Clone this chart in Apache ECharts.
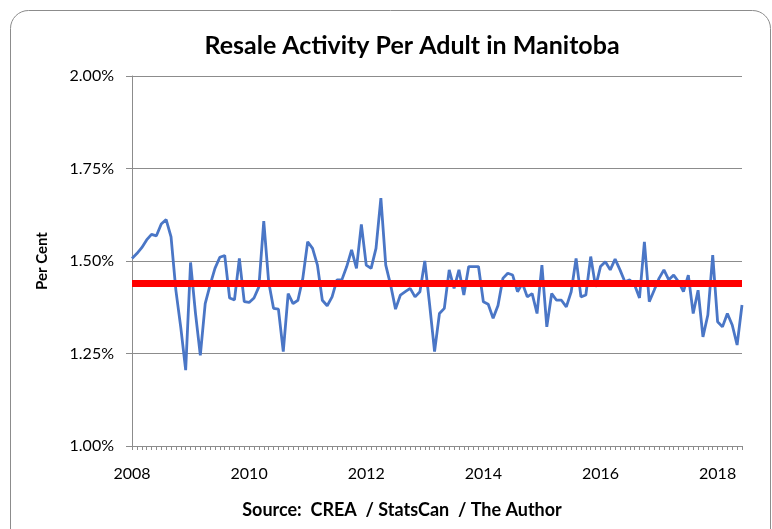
<!DOCTYPE html>
<html><head><meta charset="utf-8">
<script src="https://cdn.jsdelivr.net/npm/echarts@6/dist/echarts.min.js"></script>
<style>html,body{margin:0;padding:0;background:#fff}#c{width:772px;height:529px}</style>
</head><body><div id="c"></div>
<script>
const startYear = 2008;
const values = [
 1.507,1.52,1.536,1.557,1.572,1.568,1.60,1.612,1.565,1.42,1.32,1.205,1.496,1.36,1.245,1.385,1.435,1.48,1.51,1.515,1.40,1.395,1.507,1.39,1.388,
 1.40,1.43,1.608,1.444,1.372,1.37,1.255,1.412,1.385,1.394,1.453,1.552,1.534,1.489,1.394,1.379,1.403,1.449,1.449,1.485,1.53,1.48,1.599,1.489,1.48,
 1.534,1.67,1.489,1.435,1.37,1.408,1.417,1.426,1.403,1.417,1.50,1.381,1.255,1.358,1.372,1.476,1.426,1.476,1.408,1.485,1.485,1.485,1.39,1.383,1.345,
 1.38,1.453,1.467,1.462,1.417,1.44,1.403,1.412,1.358,1.489,1.322,1.412,1.394,1.394,1.376,1.417,1.507,1.403,1.408,1.512,1.43,1.485,1.498,1.476,1.505,
 1.476,1.444,1.449,1.435,1.40,1.552,1.39,1.421,1.453,1.476,1.449,1.462,1.444,1.417,1.462,1.358,1.421,1.295,1.354,1.516,1.336,1.322,1.358,1.327,1.273,1.381
];
const averageLevel = 1.436;
const yTicks = [1.00, 1.25, 1.50, 1.75, 2.00];
const titleText = 'Resale Activity Per Adult in Manitoba';
const sourceText = 'Source:  CREA  / StatsCan  / The Author';
const categories = [];
for (let i = 0; i < values.length; i++) {
  const y = startYear + Math.floor(i / 12), m = (i % 12) + 1;
  categories.push(y + '-' + (m < 10 ? '0' : '') + m);
}
const FONT = 'Lato';
const chart = echarts.init(document.getElementById('c'), null, {renderer: 'canvas'});
chart.setOption({
  animation: false,
  backgroundColor: '#fff',
  graphic: [{
    type: 'rect', left: 8, top: 8, z: -1,
    shape: {width: 760, height: 540, r: 18},
    style: {fill: 'none', stroke: '#8c8c8c', lineWidth: 1}
  }, {
    type: 'text', x: 412, y: 46,
    style: {text: titleText, textAlign: 'center', textVerticalAlign: 'middle',
      font: 'bold 25px Lato', fill: '#000'}
  }, {
    type: 'text', x: 402, y: 510,
    style: {text: sourceText, textAlign: 'center', textVerticalAlign: 'middle',
      font: 'bold 18px Lato', fill: '#000'}
  }],
  grid: {left: 132, right: 30, top: 76, bottom: 83},
  xAxis: {
    type: 'category',
    data: categories,
    boundaryGap: false,
    axisLine: {lineStyle: {color: '#8c8c8c', width: 1}},
    axisTick: {show: true, interval: 0, length: 4, lineStyle: {color: '#8c8c8c'}},
    axisLabel: {
      interval: 23, margin: 20, fontFamily: FONT, fontSize: 16, color: '#000',
      formatter: v => v.slice(0, 4)
    },
    splitLine: {show: false}
  },
  yAxis: {
    type: 'value', min: yTicks[0], max: yTicks[yTicks.length - 1], interval: 0.25,
    name: 'Per Cent', nameLocation: 'middle', nameGap: 82, nameRotate: 90,
    nameTextStyle: {fontFamily: FONT, fontWeight: 'bold', fontSize: 15, color: '#000'},
    axisLine: {show: true, lineStyle: {color: '#8c8c8c', width: 1}},
    axisTick: {show: true, length: 6, inside: false, lineStyle: {color: '#8c8c8c'}},
    axisLabel: {margin: 18, fontFamily: FONT, fontSize: 16, color: '#000',
      formatter: v => v.toFixed(2) + '%'},
    splitLine: {show: true, lineStyle: {color: '#8c8c8c', width: 1}}
  },
  series: [{
    type: 'line', data: values, symbol: 'none', smooth: false,
    lineStyle: {color: '#4a76c6', width: 2.8},
    markLine: {
      silent: true, symbol: 'none', label: {show: false},
      lineStyle: {color: '#ff0000', width: 7, type: 'solid'},
      data: [{yAxis: averageLevel}]
    }
  }]
});
</script></body></html>
